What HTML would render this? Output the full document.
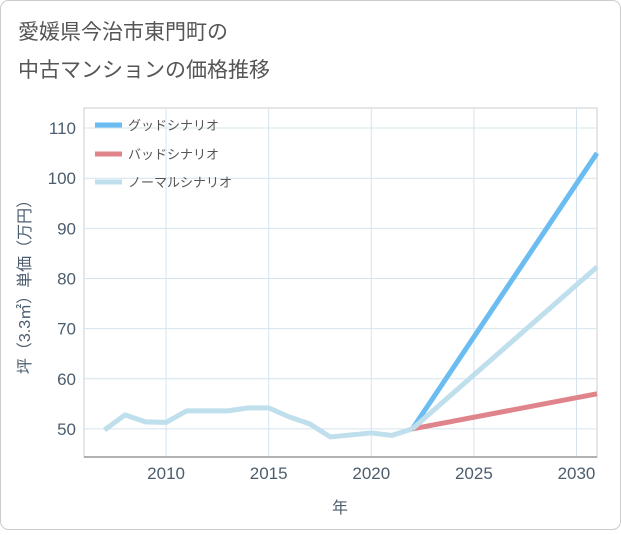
<!DOCTYPE html>
<html><head><meta charset="utf-8"><style>
body{margin:0;background:#fff;font-family:"Liberation Sans","Noto Sans CJK JP",sans-serif;}
#wrap{position:relative;width:621px;height:530px;}
</style></head><body>
<div id="wrap">
<svg id="chart" width="621" height="530" xmlns="http://www.w3.org/2000/svg">
<rect x="0.5" y="0.5" width="620" height="529" rx="8" fill="#fff" stroke="#ccc"/>
<text x="18" y="39" font-size="21" fill="#555">愛媛県今治市東門町の</text>
<text x="18" y="77" font-size="21" fill="#555">中古マンションの価格推移</text>
<rect x="84" y="108" width="513" height="349" fill="none" stroke="#ccc"/>
<g id="grid"></g>
<g id="axes"></g>
<g id="series"></g>
<text transform="translate(30,283) rotate(-90)" text-anchor="middle" font-size="16" fill="#4c5d6e">坪（3.3㎡）単価（万円）</text>
<text x="340" y="513" text-anchor="middle" font-size="16" fill="#4c5d6e">年</text>
<g>
<line x1="95" y1="125" x2="122" y2="125" stroke="#6bbcf0" stroke-width="5"/>
<text x="128" y="130" font-size="13" fill="#555">グッドシナリオ</text>
<line x1="95" y1="154" x2="122" y2="154" stroke="#e0848c" stroke-width="5"/>
<text x="128" y="159" font-size="13" fill="#555">バッドシナリオ</text>
<line x1="95" y1="182" x2="122" y2="182" stroke="#bfdfec" stroke-width="5"/>
<text x="128" y="187" font-size="13" fill="#555">ノーマルシナリオ</text>
</g>
</svg></div>
<script>
const histYears=[2007,2008,2009,2010,2011,2012,2013,2014,2015,2016,2017,2018,2019,2020,2021,2022];
const histValues=[49.8,52.8,51.4,51.3,53.6,53.6,53.6,54.2,54.2,52.4,51,48.4,48.8,49.2,48.7,50];
const projYears=[2022,2031];
const goodValues=[50,105];
const badValues=[50,57];
const normalValues=[50,82.3];
const yTicks=[50,60,70,80,90,100,110];
const xTicks=[2010,2015,2020,2025,2030];
const NS="http://www.w3.org/2000/svg";
const X0=84,X1=597,Y0=108,Y1=457,XMIN=2006,XMAX=2031,YMIN=44.4,YMAX=114;
function sx(v){return X0+(v-XMIN)/(XMAX-XMIN)*(X1-X0);}
function sy(v){return Y1-(v-YMIN)/(YMAX-YMIN)*(Y1-Y0);}
function mk(t,a,p){const e=document.createElementNS(NS,t);for(const k in a)e.setAttribute(k,a[k]);p.appendChild(e);return e;}
const grid=document.getElementById('grid'),axes=document.getElementById('axes'),ser=document.getElementById('series');
yTicks.forEach(v=>{
 const l=mk('line',{x1:X0,x2:X1,y1:sy(v),y2:sy(v),stroke:'#d4e4ee','stroke-width':1},grid);
 
 
 const t=mk('text',{x:X0-8,y:sy(v)+6,'text-anchor':'end','font-size':17,fill:'#4c5d6e'},axes);
 t.textContent=v;
 
 
});
xTicks.forEach(v=>{
 const l=mk('line',{x1:sx(v),x2:sx(v),y1:Y0,y2:Y1,stroke:'#d4e4ee','stroke-width':1},grid);
 
 
 const t=mk('text',{x:sx(v),y:Y1+22,'text-anchor':'middle','font-size':17,fill:'#4c5d6e'},axes);
 t.textContent=v;
 
 
});
const base=mk('line',{x1:X0,x2:X1,y1:Y1,y2:Y1,stroke:'#999','stroke-width':1.5},axes);


function pts(xs,ys){return xs.map((x,i)=>sx(x)+','+sy(ys[i])).join(' ');}
const bad=mk('polyline',{points:pts(projYears,badValues),fill:'none',stroke:'#e0848c','stroke-width':5},ser);


const good=mk('polyline',{points:pts(projYears,goodValues),fill:'none',stroke:'#6bbcf0','stroke-width':5},ser);


const norm=mk('polyline',{points:pts(projYears,normalValues),fill:'none',stroke:'#bfdfec','stroke-width':5},ser);


const hist=mk('polyline',{points:pts(histYears,histValues),fill:'none',stroke:'#bfdfec','stroke-width':5,'stroke-linejoin':'round'},ser);


</script>
</body></html>
